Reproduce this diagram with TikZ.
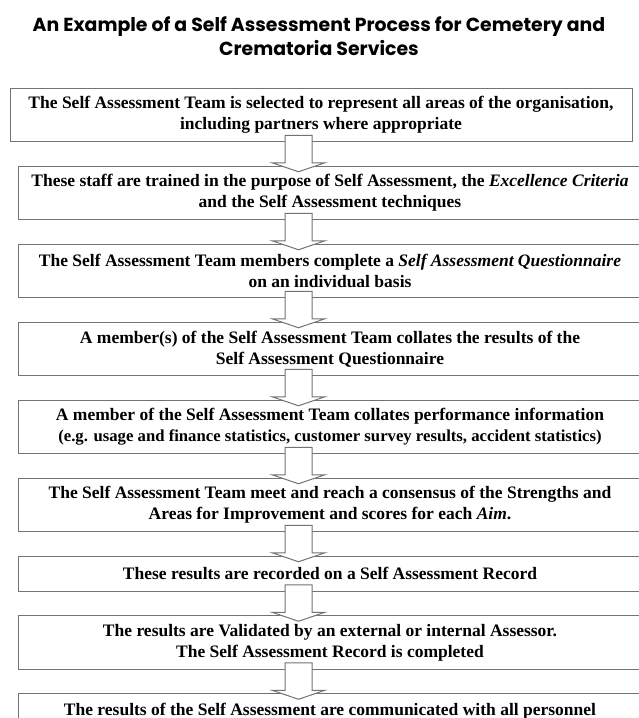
\documentclass[tikz,border=0pt]{standalone}
\usepackage{fontspec}
\setmainfont{Liberation Serif}
\newfontfamily\titlefont{Poppins}
\usepackage{tikz}
\usetikzlibrary{positioning, calc}

\tikzset{
    stepbox/.style={draw=black!55, line width=1pt, fill=white, align=center,
        minimum width=624pt, minimum height=53.5pt, inner sep=2pt,
        font=\fontsize{17.5}{21}\selectfont\bfseries},
    flatbox/.style={stepbox, minimum height=35pt},
    flowarrow/.style={draw=black!55, line width=1pt, fill=white, line join=miter}
}
\newcommand{\smallline}[1]{{\fontsize{16.7}{21}\selectfont #1}}

\begin{document}
\begin{tikzpicture}[x=1pt, y=1pt, node distance=23.5pt]
                \useasboundingbox (0,0) rectangle (639,-718);
                \clip (0,0) rectangle (639,-718);

                \node (title) at (319,-36) [align=center, font=\titlefont\fontsize{18.9}{24}\selectfont\bfseries]
                    {An Example of a Self Assessment Process for Cemetery and\\ Crematoria Services};

                \coordinate (axis) at (298.5,0);

                \node (s1) [stepbox, minimum width=622pt] at (321,-115)
                    {The Self Assessment Team is selected to represent all areas of the organisation,\\ including partners where appropriate};
                \node (s2) [stepbox, below=of s1, xshift=9pt]
                    {These staff are trained in the purpose of Self Assessment, the \textit{Excellence Criteria}\\ and the Self Assessment techniques};
                \node (s3) [stepbox, below=of s2]
                    {The Self Assessment Team members complete a \textit{Self Assessment Questionnaire}\\ on an individual basis};
                \node (s4) [stepbox, below=of s3]
                    {A member(s) of the Self Assessment Team collates the results of the\\ Self Assessment Questionnaire};
                \node (s5) [stepbox, below=of s4]
                    {A member of the Self Assessment Team collates performance information\\ \smallline{(e.g. usage and finance statistics, customer survey results, accident statistics)}};
                \node (s6) [stepbox, below=of s5]
                    {The Self Assessment Team meet and reach a consensus of the Strengths and\\ Areas for Improvement and scores for each \textit{Aim}.};
                \node (s7) [flatbox, below=of s6]
                    {These results are recorded on a Self Assessment Record};
                \node (s8) [stepbox, below=of s7]
                    {The results are Validated by an external or internal Assessor.\\ The Self Assessment Record is completed};
                \node (s9) [flatbox, below=of s8]
                    {The results of the Self Assessment are communicated with all personnel};

                % block arrows between the steps
                \foreach \a/\b in {s1/s2, s2/s3, s3/s4, s4/s5, s5/s6, s6/s7, s7/s8, s8/s9}
                    \draw [flowarrow] ($(axis |- \a.south)+(-13.5,7)$) -- ($(axis |- \b.north)+(-13.5,3)$)
                        -- ($(axis |- \b.north)+(-26.5,3)$) -- ($(axis |- \b.north)+(0,-6)$)
                        -- ($(axis |- \b.north)+(26.5,3)$) -- ($(axis |- \b.north)+(13.5,3)$)
                        -- ($(axis |- \a.south)+(13.5,7)$) -- cycle;

            \end{tikzpicture}
\end{document}
